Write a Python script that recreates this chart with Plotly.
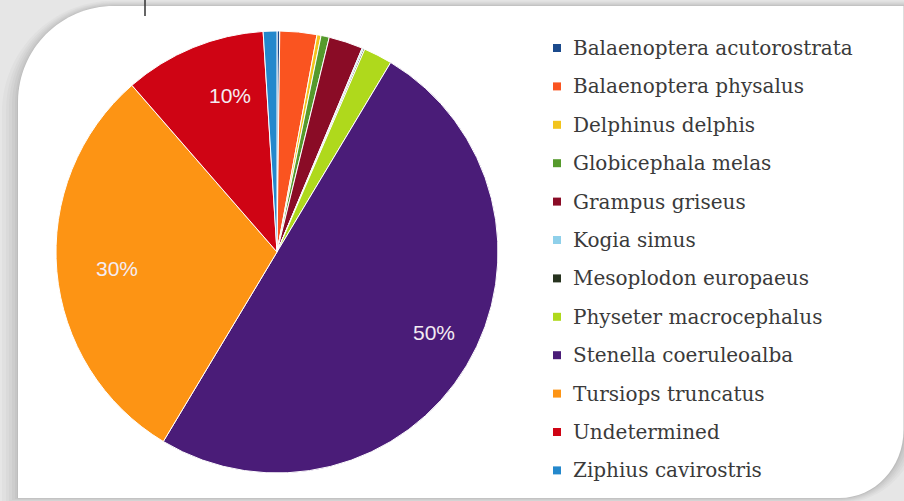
import math
import plotly.graph_objects as go

# Stranded cetacean records by species (share of total, %)
species = [
    "Balaenoptera acutorostrata",
    "Balaenoptera physalus",
    "Delphinus delphis",
    "Globicephala melas",
    "Grampus griseus",
    "Kogia simus",
    "Mesoplodon europaeus",
    "Physeter macrocephalus",
    "Stenella coeruleoalba",
    "Tursiops truncatus",
    "Undetermined",
    "Ziphius cavirostris",
]
share = [0.2, 2.7, 0.3, 0.6, 2.5, 0.1, 0.1, 2.1, 50.0, 30.0, 10.4, 1.0]
colors = [
    "#1b4a8c", "#fa5420", "#f2c41c", "#559a2c", "#8a0c26", "#8fd0ea",
    "#27331f", "#afd91c", "#4a1c78", "#fd9414", "#cf0414", "#2488cc",
]

W, H = 904, 501


def px(x):
    return x / W


def py(y):
    return 1 - y / H


# pie placement in pixels
CX, CY, R = 277, 252, 221

fig = go.Figure()
fig.add_trace(go.Pie(
    labels=species,
    values=share,
    sort=False,
    direction="clockwise",
    rotation=0,
    marker=dict(colors=colors, line=dict(color="white", width=1)),
    textinfo="none",
    hoverinfo="label+percent",
    showlegend=False,
    domain=dict(x=[px(CX - R), px(CX + R)], y=[py(CY + R), py(CY - R)]),
))


# card outline: rounded top-left and bottom-right corners
def card_path(L, T, Rr, B, rx1, ry1, rx2, ry2):
    k = 0.5523
    pts = [
        f"M {px(L)},{py(B)}",
        f"L {px(L)},{py(T + ry1)}",
        f"C {px(L)},{py(T + ry1 - k * ry1)} {px(L + rx1 - k * rx1)},{py(T)} {px(L + rx1)},{py(T)}",
        f"L {px(Rr)},{py(T)}",
        f"L {px(Rr)},{py(B - ry2)}",
        f"C {px(Rr)},{py(B - ry2 + k * ry2)} {px(Rr - rx2 + k * rx2)},{py(B)} {px(Rr - rx2)},{py(B)}",
        "Z",
    ]
    return " ".join(pts)


shapes = []
# soft drop shadow built from a few expanded copies of the card
for off, col in [(16, "#e0e0e0"), (12, "#dadada"), (9, "#d4d4d4"),
                 (6, "#cdcdcd"), (3, "#c6c6c6"), (1, "#bdbdbd")]:
    shapes.append(dict(
        type="path", xref="paper", yref="paper", layer="below",
        path=card_path(18 - off, 6 - off / 3, 904 + off, 498 + off / 3,
                       96 + off, 96 + off, 64 + off, 68 + off),
        fillcolor=col, line=dict(width=0),
    ))
shapes.append(dict(
    type="path", xref="paper", yref="paper", layer="below",
    path=card_path(18, 6, 903.5, 498, 96, 96, 64, 68),
    fillcolor="white", line=dict(width=0),
))
shapes.append(dict(
    type="line", xref="paper", yref="paper",
    x0=px(145), x1=px(145), y0=py(0), y1=py(16),
    line=dict(color="#333333", width=1.5),
))

annotations = []
# percentage labels on the larger slices, near the outer edge
total = sum(share)
start = 0.0
for v in share:
    span = 360 * v / total
    if v >= 10:
        mid = math.radians(start + span / 2)
        f = 0.83
        x = CX + f * R * math.sin(mid)
        y = CY - f * R * math.cos(mid)
        annotations.append(dict(
            x=px(x), y=py(y), xref="paper", yref="paper",
            text=f"{round(100 * v / total)}%", showarrow=False,
            font=dict(family="Liberation Sans", size=21, color="#f4ecf2"),
        ))
    start += span

# legend entries
LEG_X, LEG_Y0, LEG_DY = 557, 48, 38.4
for i, (name, col) in enumerate(zip(species, colors)):
    y = LEG_Y0 + i * LEG_DY
    shapes.append(dict(
        type="rect", xref="paper", yref="paper",
        x0=px(LEG_X - 4), x1=px(LEG_X + 4), y0=py(y + 4), y1=py(y - 4),
        fillcolor=col, line=dict(width=0),
    ))
    annotations.append(dict(
        x=px(LEG_X + 14), y=py(y), xref="paper", yref="paper",
        xanchor="left", yanchor="middle", text=name, showarrow=False,
        font=dict(family="DejaVu Serif", size=20, color="#3a3a3a"),
    ))

fig.update_layout(
    width=W, height=H,
    margin=dict(l=0, r=0, t=0, b=0),
    paper_bgcolor="#e6e6e6",
    plot_bgcolor="rgba(0,0,0,0)",
    shapes=shapes,
    annotations=annotations,
    showlegend=False,
)

fig.write_html("out.html")
